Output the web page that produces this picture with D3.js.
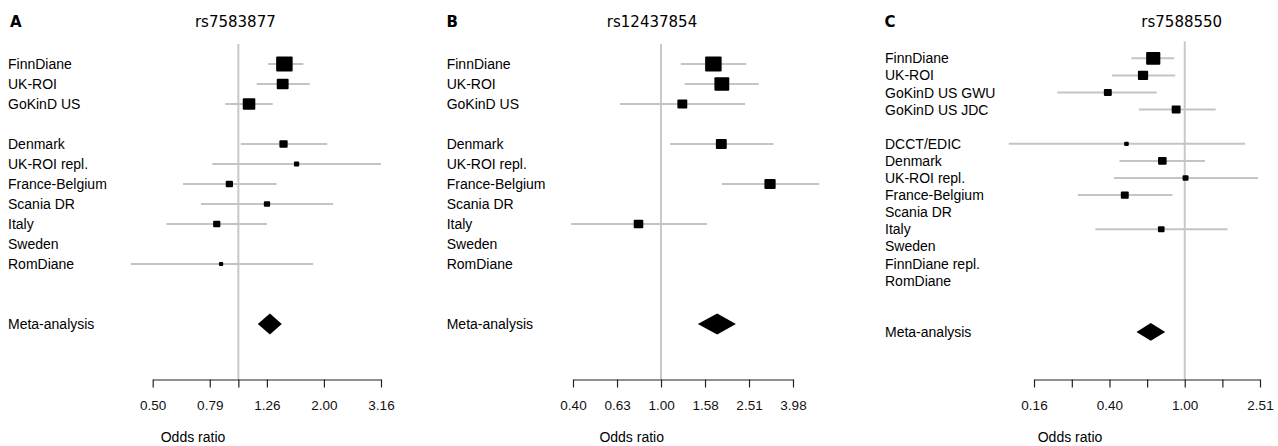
<!DOCTYPE html>
<html>
<head>
<meta charset="utf-8">
<script src="https://cdn.jsdelivr.net/npm/d3@7"></script>
<style>
  body { margin: 0; background: #fff; }
  svg { display: block; }
</style>
</head>
<body>
<div id="vis"></div>
<script>
// Data ------------------------------------------------------------------------------------------------------------
// "" marks the blank row between the discovery and the replication studies
const studiesA = ["FinnDiane", "UK-ROI", "GoKinD US", "", "Denmark", "UK-ROI repl.", "France-Belgium",
  "Scania DR", "Italy", "Sweden", "RomDiane"];
const orA = [1.45, 1.43, 1.09, null, 1.44, 1.60, 0.93, 1.26, 0.84, null, 0.87];
const loA = [1.27, 1.16, 0.90, null, 1.02, 0.81, 0.64, 0.74, 0.56, null, 0.42];
const hiA = [1.69, 1.78, 1.32, null, 2.05, 3.16, 1.36, 2.15, 1.26, null, 1.83];
const weightA = [1.0, 0.72, 0.76, null, 0.5, 0.32, 0.44, 0.38, 0.44, null, 0.26];
const metaA = [1.29, 1.17, 1.42];
const ticksA = [0.501, 0.794, 1.0, 1.259, 1.995, 3.162];
const tickLabelsA = ["0.50", "0.79", "", "1.26", "2.00", "3.16"];

const studiesB = ["FinnDiane", "UK-ROI", "GoKinD US", "", "Denmark", "UK-ROI repl.", "France-Belgium",
  "Scania DR", "Italy", "Sweden", "RomDiane"];
const orB = [1.73, 1.89, 1.25, null, 1.88, null, 3.13, null, 0.79, null, null];
const loB = [1.23, 1.28, 0.65, null, 1.10, null, 1.89, null, 0.39, null, null];
const hiB = [2.44, 2.78, 2.41, null, 3.25, null, 5.24, null, 1.62, null, null];
const weightB = [1.0, 0.9, 0.6, null, 0.66, null, 0.68, null, 0.58, null, null];
const metaB = [1.80, 1.47, 2.19];
const ticksB = [0.398, 0.631, 1.0, 1.585, 2.512, 3.981];
const tickLabelsB = ["0.40", "0.63", "1.00", "1.58", "2.51", "3.98"];

const studiesC = ["FinnDiane", "UK-ROI", "GoKinD US GWU", "GoKinD US JDC", "", "DCCT/EDIC", "Denmark",
  "UK-ROI repl.", "France-Belgium", "Scania DR", "Italy", "Sweden", "FinnDiane repl.", "RomDiane"];
const orC = [0.68, 0.60, 0.39, 0.90, null, 0.49, 0.76, 1.01, 0.48, null, 0.75, null, null, null];
const loC = [0.52, 0.41, 0.21, 0.57, null, 0.116, 0.45, 0.42, 0.27, null, 0.335, null, null, null];
const hiC = [0.88, 0.89, 0.71, 1.46, null, 2.09, 1.28, 2.45, 0.86, null, 1.69, null, null, null];
const weightC = [0.86, 0.62, 0.48, 0.54, null, 0.28, 0.52, 0.36, 0.48, null, 0.4, null, null, null];
const metaC = [0.66, 0.554, 0.787];
const ticksC = [0.158, 0.251, 0.398, 0.631, 1.0, 1.585, 2.512];
const tickLabelsC = ["0.16", "", "0.40", "", "1.00", "", "2.51"];

const panelLetters = ["A", "B", "C"];
const snpTitles = ["rs7583877", "rs12437854", "rs7588550"];

// Initialize the canvas -------------------------------------------------------------------------------------------
const canvasWidth = 1278;
const canvasHeight = 446;
const axisY = 379.5;
const labelFont = "'Liberation Sans', Arial, sans-serif";
const titleFont = "'DejaVu Sans', sans-serif";
const fontSize = 14;
const tickFontSize = 13.5;
const ciColor = "#c4c4c4";
const refColor = "#c8c8c8";
const maxBox = 16.5;

const svg = d3.select("#vis")
  .append("svg")
  .attr("width", canvasWidth)
  .attr("height", canvasHeight);

// per-panel layout (not data)
const layouts = [
  { labelX: 8, letterX: 10, xRange: [152.7, 381], rowFirst: 64, rowStep: 20, titleShift: -3 },
  { labelX: 446.7, letterX: 446.5, xRange: [573, 793], rowFirst: 64, rowStep: 20, titleShift: -9 },
  { labelX: 885, letterX: 884.5, xRange: [1034, 1260], rowFirst: 58.3, rowStep: 17.1, titleShift: -3 }
];

const panels = [
  { studies: studiesA, or: orA, lo: loA, hi: hiA, weight: weightA, meta: metaA, ticks: ticksA, tickLabels: tickLabelsA },
  { studies: studiesB, or: orB, lo: loB, hi: hiB, weight: weightB, meta: metaB, ticks: ticksB, tickLabels: tickLabelsB },
  { studies: studiesC, or: orC, lo: loC, hi: hiC, weight: weightC, meta: metaC, ticks: ticksC, tickLabels: tickLabelsC }
];

panels.forEach(function(p, i) {
  const lay = layouts[i];
  const g = svg.append("g");

  const xScale = d3.scaleLog()
    .domain([p.ticks[0], p.ticks[p.ticks.length - 1]])
    .range(lay.xRange);
  const metaRow = p.studies.length + 2;
  const yScale = d3.scaleLinear()
    .domain([0, 1])
    .range([lay.rowFirst, lay.rowFirst + lay.rowStep]);
  const sizeScale = d3.scaleLinear().domain([0, 1]).range([0, maxBox]);

  const rows = p.studies.map((name, k) => ({
    name: name, row: k, or: p.or[k], lo: p.lo[k], hi: p.hi[k], w: p.weight[k]
  }));

  // Panel letter and title ----------------------------------------------------------------------------------------
  g.append("text")
    .text(panelLetters[i])
    .attr("x", lay.letterX)
    .attr("y", 26.5)
    .style("font-family", titleFont)
    .style("font-weight", "bold")
    .style("font-size", "15px");

  g.append("text")
    .text(snpTitles[i])
    .attr("x", xScale(1) + lay.titleShift)
    .attr("y", 26.5)
    .style("text-anchor", "middle")
    .style("font-family", titleFont)
    .style("font-size", "15px");

  // Reference line at OR = 1 ----------------------------------------------------------------------------------------
  g.append("line")
    .attr("x1", xScale(1))
    .attr("x2", xScale(1))
    .attr("y1", yScale(-1))
    .attr("y2", axisY)
    .style("stroke", refColor)
    .style("stroke-width", 2);

  // Row labels ------------------------------------------------------------------------------------------------------
  g.selectAll("text.study")
    .data(rows.filter(d => d.name !== ""))
    .enter()
    .append("text")
    .attr("class", "study")
    .text(d => d.name)
    .attr("x", lay.labelX)
    .attr("y", d => yScale(d.row))
    .attr("dy", "0.36em")
    .style("font-family", labelFont)
    .style("font-size", fontSize + "px");

  g.append("text")
    .text("Meta-analysis")
    .attr("x", lay.labelX)
    .attr("y", yScale(metaRow))
    .attr("dy", "0.36em")
    .style("font-family", labelFont)
    .style("font-size", fontSize + "px");

  // Confidence intervals and boxes ----------------------------------------------------------------------------------
  const est = rows.filter(d => d.or != null);

  g.selectAll("line.ci")
    .data(est)
    .enter()
    .append("line")
    .attr("class", "ci")
    .attr("x1", d => xScale(d.lo))
    .attr("x2", d => xScale(d.hi))
    .attr("y1", d => yScale(d.row))
    .attr("y2", d => yScale(d.row))
    .style("stroke", ciColor)
    .style("stroke-width", 2);

  g.selectAll("rect.box")
    .data(est)
    .enter()
    .append("rect")
    .attr("class", "box")
    .attr("x", d => xScale(d.or) - sizeScale(d.w) / 2)
    .attr("y", d => yScale(d.row) - sizeScale(d.w) * 0.45)
    .attr("width", d => sizeScale(d.w))
    .attr("height", d => sizeScale(d.w) * 0.9)
    .attr("rx", 1)
    .style("fill", "#000");

  // Meta-analysis diamond -------------------------------------------------------------------------------------------
  const my = yScale(metaRow);
  const half = lay.rowStep * 0.52;
  g.append("path")
    .attr("d", d3.line()([
      [xScale(p.meta[1]), my],
      [xScale(p.meta[0]), my - half],
      [xScale(p.meta[2]), my],
      [xScale(p.meta[0]), my + half]
    ]) + "Z")
    .style("fill", "#000");

  // Axis ------------------------------------------------------------------------------------------------------------
  const axis = g.append("g")
    .attr("transform", "translate(0," + axisY + ")")
    .call(d3.axisBottom(xScale)
      .tickValues(p.ticks)
      .tickFormat((d, k) => p.tickLabels[k])
      .tickSize(8)
      .tickSizeOuter(0)
      .tickPadding(13.4));
  axis.selectAll("text")
    .style("font-family", labelFont)
    .style("font-size", tickFontSize + "px")
    .style("fill", "#111");
  axis.selectAll("path, line")
    .style("stroke", "#222")
    .style("stroke-width", 1.2);

  g.append("text")
    .text("Odds ratio")
    .attr("x", lay.labelX + 185)
    .attr("y", 442)
    .style("text-anchor", "middle")
    .style("font-family", labelFont)
    .style("font-size", fontSize + "px");
});
</script>
</body>
</html>
